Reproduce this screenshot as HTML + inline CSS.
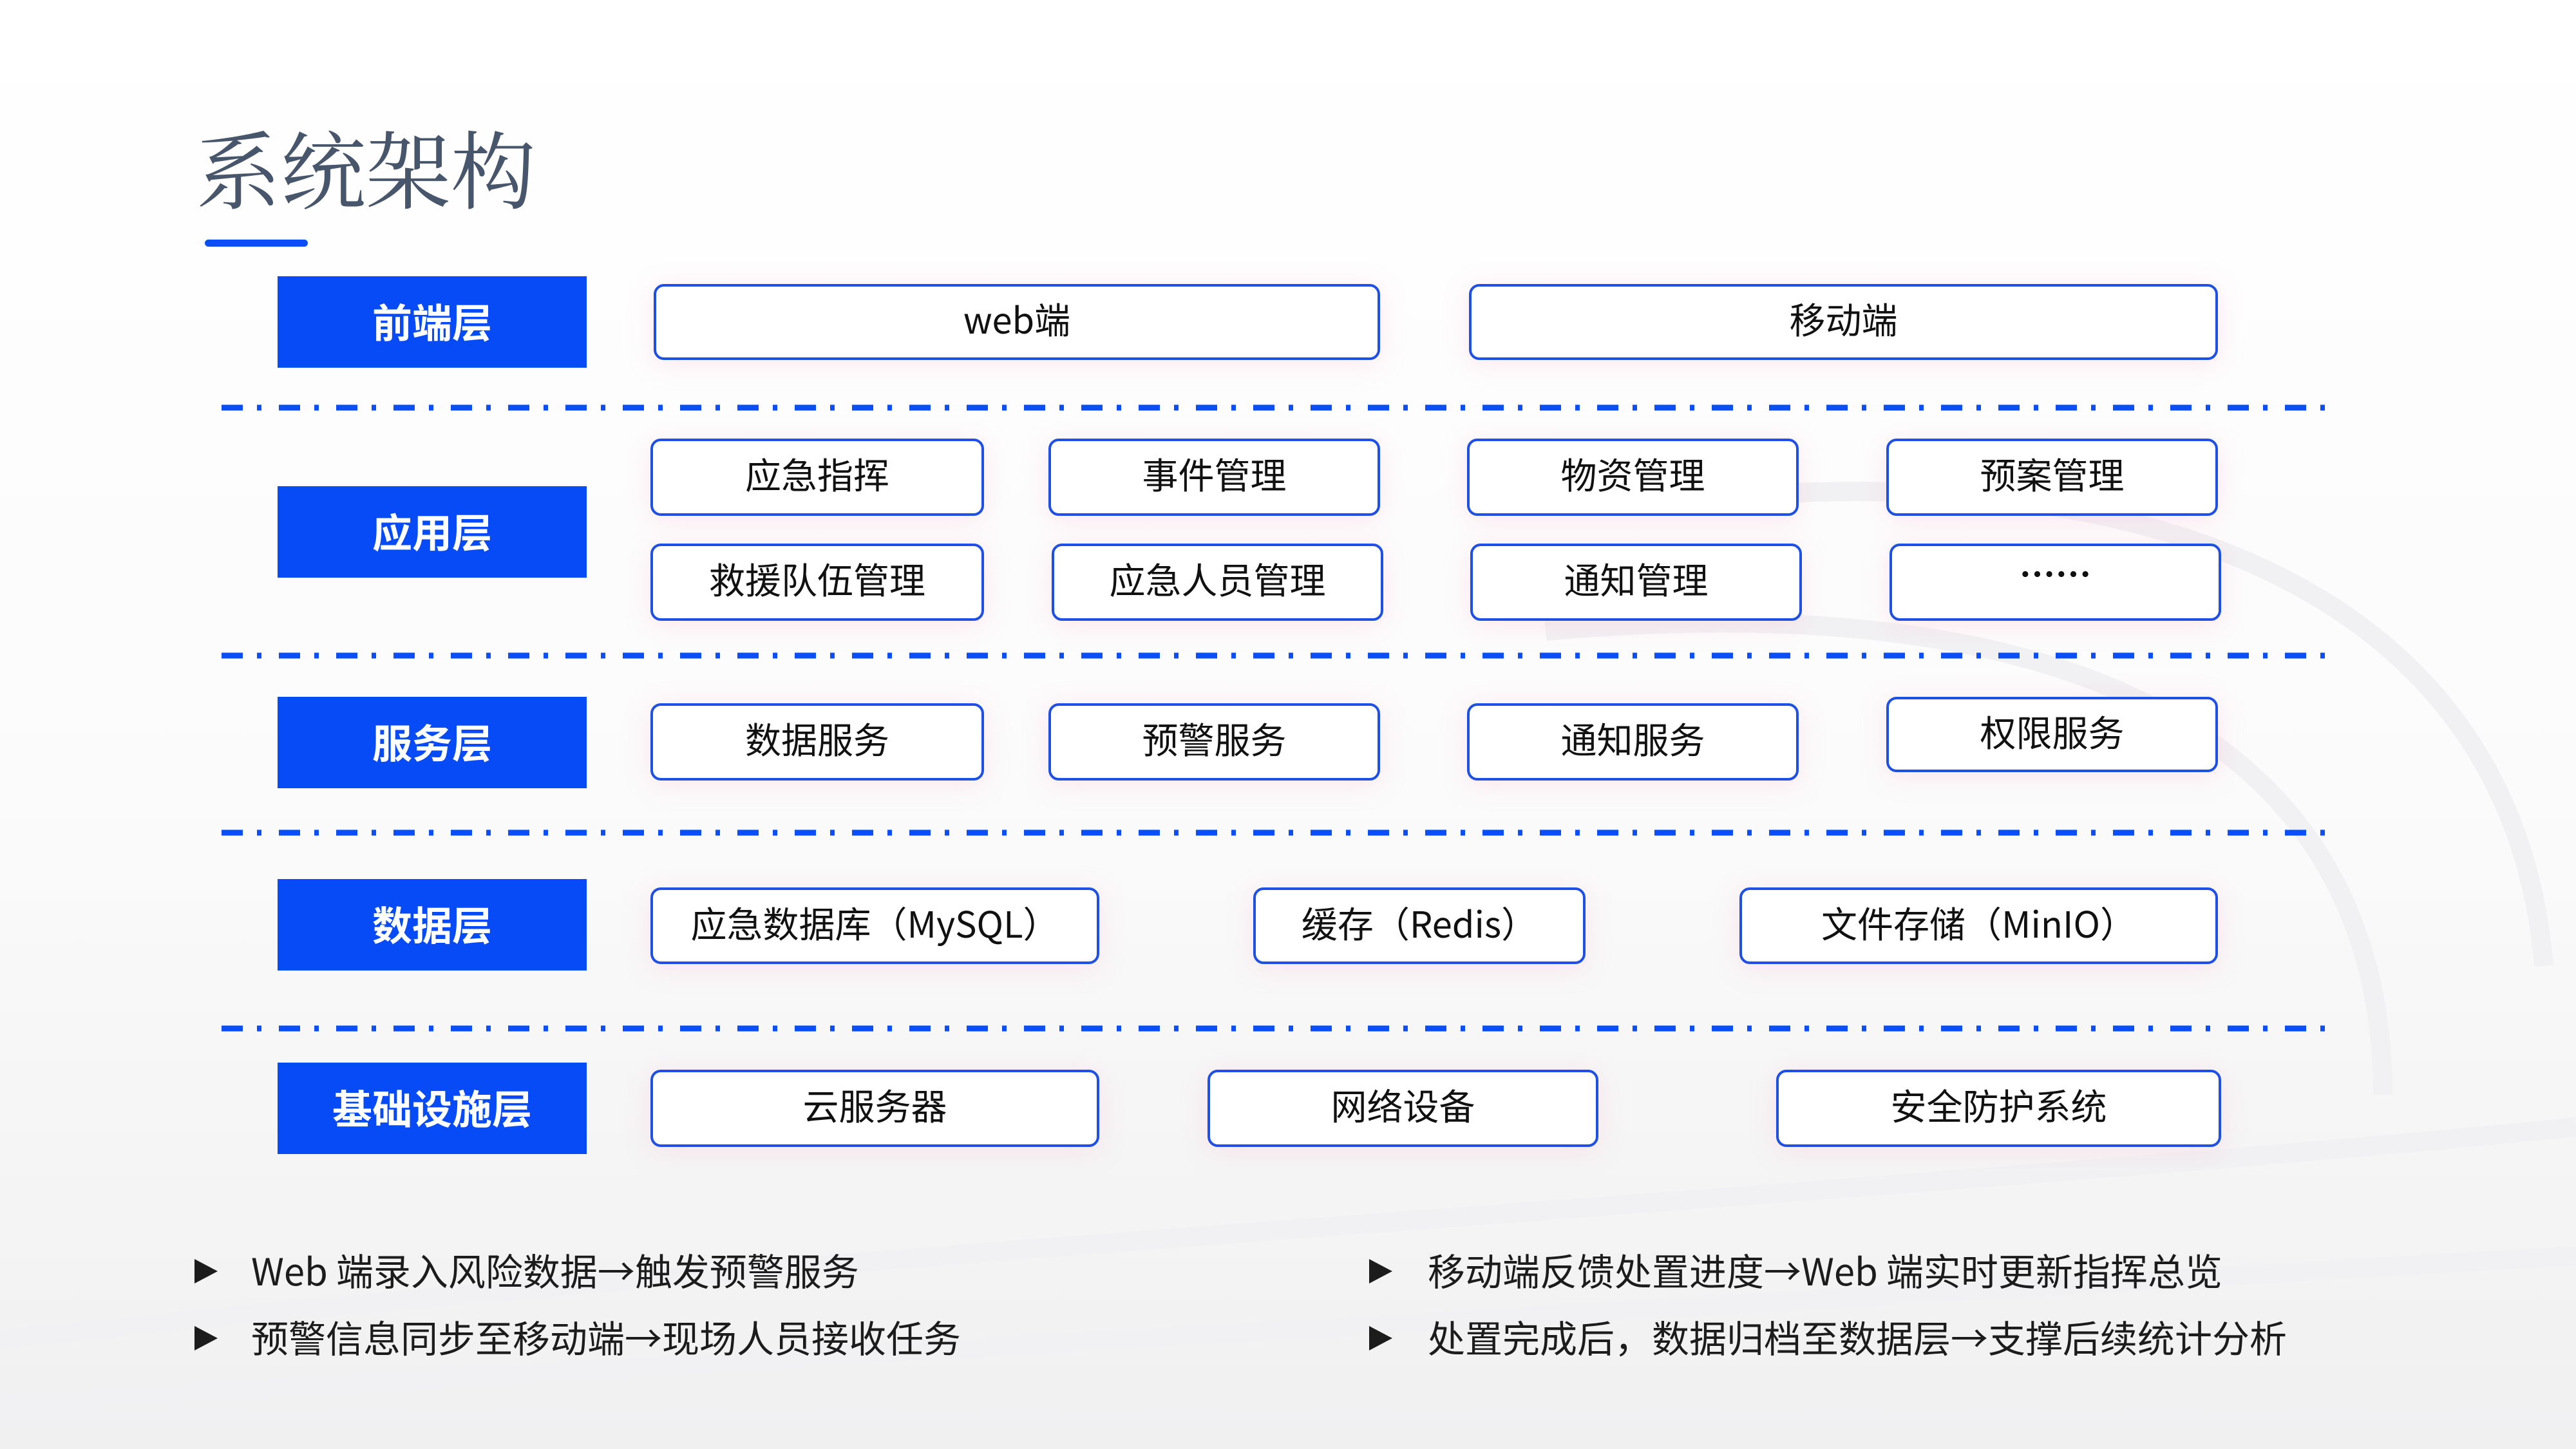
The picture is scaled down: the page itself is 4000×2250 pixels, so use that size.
<!DOCTYPE html>
<html><head><meta charset="utf-8">
<style>
html,body{margin:0;padding:0}
body{width:4000px;height:2250px;position:relative;overflow:hidden;
background:linear-gradient(180deg,#ffffff 0%,#fbfbfb 55%,#f0f0f1 100%);
font-family:"Noto Sans CJK SC",sans-serif;}
.bg{position:absolute;left:0;top:0}
.title{position:absolute;left:304px;top:204px;font-family:"Liberation Serif","Noto Serif CJK SC",serif;font-size:132px;color:#47566b;line-height:1}
.bar{position:absolute;left:318px;top:372px;width:160px;height:11px;border-radius:6px;background:#0b4ef5}
.layer{position:absolute;left:431px;width:480px;height:142px;background:#064bf6;color:#fff;font-weight:bold;font-size:62px;display:flex;align-items:center;justify-content:center;font-family:"Noto Sans CJK SC",sans-serif;line-height:1;padding-bottom:6px;box-sizing:border-box}
.node{position:absolute;box-sizing:border-box;background:#fff;border:4px solid #1e50e6;border-radius:16px;display:flex;align-items:center;justify-content:center;font-size:56px;line-height:1;padding-bottom:10px;color:#111;box-shadow:0 6px 40px rgba(255,170,200,0.25);font-family:"Noto Sans CJK SC",sans-serif}
.bl{position:absolute;font-size:58px;color:#1c1c1c;line-height:1;font-family:"Noto Sans CJK SC",sans-serif}
.ar{position:absolute;width:0;height:0;border-top:19px solid transparent;border-bottom:19px solid transparent;border-left:36px solid #1c1c1c}
</style></head><body>
<svg class="bg" width="4000" height="2250" viewBox="0 0 4000 2250">
<g fill="none" stroke="#f1f1f3" stroke-width="30">
<path d="M2600 780 C3300 700 3900 900 3950 1500"/>
<path d="M2400 980 C3300 900 3700 1200 3700 1700"/>
<path d="M0 2080 C1200 1950 3000 1850 4000 1750"/>
<path d="M0 2180 C1500 2100 3000 2000 4000 1950"/>
</g>
<g stroke="#0b4ef5" stroke-width="9" stroke-dasharray="33 22 7 27">
<line x1="344" y1="633" x2="3610" y2="633"/>
<line x1="344" y1="1018" x2="3610" y2="1018"/>
<line x1="344" y1="1293" x2="3610" y2="1293"/>
<line x1="344" y1="1597" x2="3610" y2="1597"/>
</g>
</svg>
<div class="title">系统架构</div>
<div class="bar"></div>

<div class="layer" style="top:429px">前端层</div>
<div class="layer" style="top:755px">应用层</div>
<div class="layer" style="top:1082px">服务层</div>
<div class="layer" style="top:1365px">数据层</div>
<div class="layer" style="top:1650px">基础设施层</div>

<div class="node" style="left:1015px;top:441px;width:1128px;height:118px">web端</div>
<div class="node" style="left:2281px;top:441px;width:1163px;height:118px">移动端</div>

<div class="node" style="left:1010px;top:681px;width:518px;height:120px">应急指挥</div>
<div class="node" style="left:1628px;top:681px;width:515px;height:120px">事件管理</div>
<div class="node" style="left:2278px;top:681px;width:515px;height:120px">物资管理</div>
<div class="node" style="left:2929px;top:681px;width:515px;height:120px">预案管理</div>

<div class="node" style="left:1010px;top:844px;width:518px;height:120px">救援队伍管理</div>
<div class="node" style="left:1633px;top:844px;width:515px;height:120px">应急人员管理</div>
<div class="node" style="left:2283px;top:844px;width:515px;height:120px">通知管理</div>
<div class="node" style="left:2934px;top:844px;width:515px;height:120px;padding-bottom:28px;font-weight:bold">……</div>

<div class="node" style="left:1010px;top:1092px;width:518px;height:120px">数据服务</div>
<div class="node" style="left:1628px;top:1092px;width:515px;height:120px">预警服务</div>
<div class="node" style="left:2278px;top:1092px;width:515px;height:120px">通知服务</div>
<div class="node" style="left:2929px;top:1082px;width:515px;height:117px">权限服务</div>

<div class="node" style="left:1010px;top:1378px;width:697px;height:119px">应急数据库（MySQL）</div>
<div class="node" style="left:1946px;top:1378px;width:516px;height:119px">缓存（Redis）</div>
<div class="node" style="left:2701px;top:1378px;width:743px;height:119px">文件存储（MinIO）</div>

<div class="node" style="left:1010px;top:1661px;width:697px;height:120px">云服务器</div>
<div class="node" style="left:1875px;top:1661px;width:607px;height:120px">网络设备</div>
<div class="node" style="left:2758px;top:1661px;width:691px;height:120px">安全防护系统</div>

<div class="ar" style="left:302px;top:1955px"></div>
<div class="bl" style="left:390px;top:1942px">Web 端录入风险数据→触发预警服务</div>
<div class="ar" style="left:302px;top:2059px"></div>
<div class="bl" style="left:390px;top:2046px">预警信息同步至移动端→现场人员接收任务</div>
<div class="ar" style="left:2126px;top:1955px"></div>
<div class="bl" style="left:2217px;top:1942px">移动端反馈处置进度→Web 端实时更新指挥总览</div>
<div class="ar" style="left:2126px;top:2059px"></div>
<div class="bl" style="left:2217px;top:2046px">处置完成后，数据归档至数据层→支撑后续统计分析</div>
</body></html>
